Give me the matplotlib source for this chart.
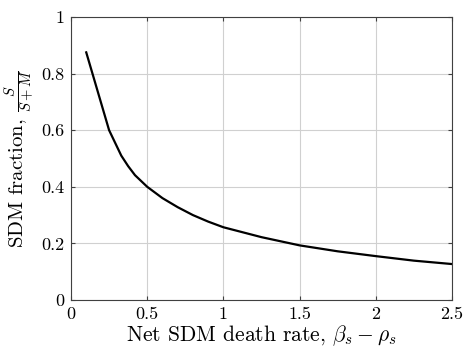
import matplotlib
matplotlib.use("Agg")
import matplotlib.pyplot as plt

# net SDM death rate (beta_s - rho_s) vs SDM fraction S/(S+M)
death_rate = [0.1, 0.25, 0.33, 0.375, 0.42, 0.5, 0.6, 0.7, 0.8, 0.9, 1.0,
              1.25, 1.5, 1.75, 2.0, 2.25, 2.5]
sdm_fraction = [0.875, 0.6, 0.51, 0.473, 0.441, 0.40, 0.36, 0.328, 0.30, 0.277, 0.257,
                0.222, 0.193, 0.172, 0.155, 0.139, 0.127]

xticks = [0, 0.5, 1, 1.5, 2, 2.5]
xtick_labels = ["0", "0.5", "1", "1.5", "2", "2.5"]
yticks = [0, 0.2, 0.4, 0.6, 0.8, 1]
ytick_labels = ["0", "0.2", "0.4", "0.6", "0.8", "1"]

plt.rcParams["font.family"] = "cmr10"
plt.rcParams["mathtext.fontset"] = "cm"
plt.rcParams["axes.formatter.use_mathtext"] = True

fig = plt.figure(figsize=(4.68, 3.57), dpi=100)
ax = fig.add_axes([0.1517, 0.1597, 0.8141, 0.7927])

ax.plot(death_rate, sdm_fraction, color="black", lw=1.6)

ax.set_xlim(0, 2.5)
ax.set_ylim(0, 1)
ax.set_xticks(xticks)
ax.set_xticklabels(xtick_labels)
ax.set_yticks(yticks)
ax.set_yticklabels(ytick_labels)

ax.grid(True, color="#d0d0d0", lw=0.8)
ax.set_axisbelow(True)
ax.tick_params(direction="in", top=True, right=True, length=3,
               color="#404040", labelsize=13, pad=5)
for s in ax.spines.values():
    s.set_color("#404040")
    s.set_linewidth(0.8)

ax.set_xlabel(r"Net SDM death rate, $\beta_s - \rho_s$", fontsize=15.5, labelpad=1)
ax.set_ylabel(r"SDM fraction, $\frac{S}{S+M}$", fontsize=15, labelpad=3)

fig.savefig("out.png", dpi=100)
